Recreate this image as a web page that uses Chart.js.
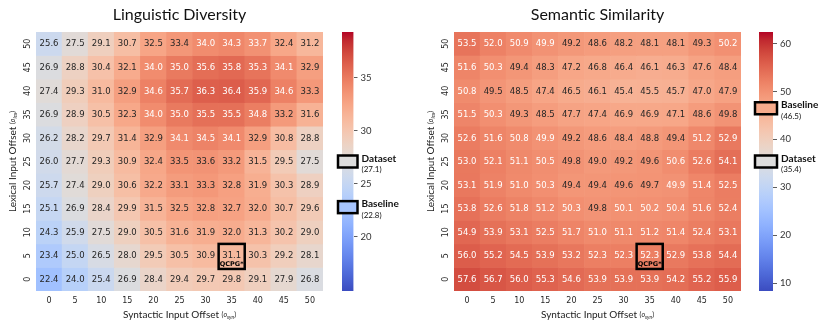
<!DOCTYPE html>
<html>
<head>
<meta charset="utf-8">
<title>Linguistic Diversity / Semantic Similarity</title>
<script src="https://cdn.jsdelivr.net/npm/chart.js"></script>
<style>
  body { margin: 0; background: #fff; }
  #wrap { position: relative; width: 830px; height: 328px; }
  canvas { position: absolute; top: 0; }
</style>
</head>
<body>
<div id="wrap">
  <canvas id="divChart" style="left:0px" width="330" height="328"></canvas>
  <canvas id="divBar" style="left:330px" width="85" height="328"></canvas>
  <canvas id="simChart" style="left:418px" width="330" height="328"></canvas>
  <canvas id="simBar" style="left:745px" width="85" height="328"></canvas>
</div>
<script>
// syntactic offsets (columns) and lexical offsets (rows, top to bottom)
const synOffsets = [0, 5, 10, 15, 20, 25, 30, 35, 40, 45, 50];
const lexOffsets = [50, 45, 40, 35, 30, 25, 20, 15, 10, 5, 0];

const diversity = [
    [25.6, 27.5, 29.1, 30.7, 32.5, 33.4, 34.0, 34.3, 33.7, 32.4, 31.2],
    [26.9, 28.8, 30.4, 32.1, 34.0, 35.0, 35.6, 35.8, 35.3, 34.1, 32.9],
    [27.4, 29.3, 31.0, 32.9, 34.6, 35.7, 36.3, 36.4, 35.9, 34.6, 33.3],
    [26.9, 28.9, 30.5, 32.3, 34.0, 35.0, 35.5, 35.5, 34.8, 33.2, 31.6],
    [26.2, 28.2, 29.7, 31.4, 32.9, 34.1, 34.5, 34.1, 32.9, 30.8, 28.8],
    [26.0, 27.7, 29.3, 30.9, 32.4, 33.5, 33.6, 33.2, 31.5, 29.5, 27.5],
    [25.7, 27.4, 29.0, 30.6, 32.2, 33.1, 33.3, 32.8, 31.9, 30.3, 28.9],
    [25.1, 26.9, 28.4, 29.9, 31.5, 32.5, 32.8, 32.7, 32.0, 30.7, 29.6],
    [24.3, 25.9, 27.5, 29.0, 30.5, 31.6, 31.9, 32.0, 31.3, 30.2, 29.0],
    [23.4, 25.0, 26.5, 28.0, 29.5, 30.5, 30.9, 31.1, 30.3, 29.2, 28.1],
    [22.4, 24.0, 25.4, 26.9, 28.4, 29.4, 29.7, 29.8, 29.1, 27.9, 26.8]
];

const similarity = [
    [53.5, 52.0, 50.9, 49.9, 49.2, 48.6, 48.2, 48.1, 48.1, 49.3, 50.2],
    [51.6, 50.3, 49.4, 48.3, 47.2, 46.8, 46.4, 46.1, 46.3, 47.6, 48.4],
    [50.8, 49.5, 48.5, 47.4, 46.5, 46.1, 45.4, 45.5, 45.7, 47.0, 47.9],
    [51.5, 50.3, 49.3, 48.5, 47.7, 47.4, 46.9, 46.9, 47.1, 48.6, 49.8],
    [52.6, 51.6, 50.8, 49.9, 49.2, 48.6, 48.4, 48.8, 49.4, 51.2, 52.9],
    [53.0, 52.1, 51.1, 50.5, 49.8, 49.0, 49.2, 49.6, 50.6, 52.6, 54.1],
    [53.1, 51.9, 51.0, 50.3, 49.4, 49.4, 49.6, 49.7, 49.9, 51.4, 52.5],
    [53.8, 52.6, 51.8, 51.2, 50.3, 49.8, 50.1, 50.2, 50.4, 51.6, 52.4],
    [54.9, 53.9, 53.1, 52.5, 51.7, 51.0, 51.1, 51.2, 51.4, 52.4, 53.1],
    [56.0, 55.2, 54.5, 53.9, 53.2, 52.3, 52.3, 52.3, 52.9, 53.8, 54.4],
    [57.6, 56.7, 56.0, 55.3, 54.6, 53.9, 53.9, 53.9, 54.2, 55.2, 55.9]
];

// colour ranges and colourbar ticks
const divRange = [14.9, 39.3];
const simRange = [8.4, 62.4];
const divBarTicks = [20, 25, 30, 35];
const simBarTicks = [10, 20, 30, 40, 50, 60];

// reference markers on the colourbars
const divMarkers = [{ name: 'Dataset', value: 27.1 }, { name: 'Baseline', value: 22.8 }];
const simMarkers = [{ name: 'Baseline', value: 46.5 }, { name: 'Dataset', value: 35.4 }];

// highlighted configuration
const qcpg = { label: 'QCPG*', syn: 35, lex: 5 };

// coolwarm
const CW = [
    [59,76,192],[68,90,204],[77,104,215],[87,117,225],[98,130,234],[108,142,241],
    [119,154,247],[130,165,251],[141,176,254],[152,185,255],[163,194,255],[174,201,253],
    [184,208,249],[194,213,244],[204,217,238],[213,219,230],[221,221,221],[229,216,209],
    [236,211,197],[241,204,185],[245,196,173],[247,187,160],[247,177,148],[247,166,135],
    [244,154,123],[241,141,111],[236,127,99],[229,112,88],[222,96,77],[213,80,66],
    [203,62,56],[192,40,47],[180,4,38]
];

function cmapRGB(v, range) {
    let t = (v - range[0]) / (range[1] - range[0]);
    t = Math.max(0, Math.min(1, t));
    const n = CW.length - 1;
    const f = t * n;
    const i = Math.min(Math.floor(f), n - 1);
    const u = f - i;
    return CW[i].map((c, k) => Math.round(c + (CW[i + 1][k] - c) * u));
}
function cmap(v, range) {
    const c = cmapRGB(v, range);
    return 'rgb(' + c.join(',') + ')';
}
function textColor(v, range) {
    const lin = cmapRGB(v, range).map(c => {
        c = c / 255;
        return c <= 0.03928 ? c / 12.92 : Math.pow((c + 0.055) / 1.055, 2.4);
    });
    const lum = 0.2126 * lin[0] + 0.7152 * lin[1] + 0.0722 * lin[2];
    return lum > 0.408 ? '#262626' : '#ffffff';
}

const tickFont = { family: 'DejaVu Sans', size: 8 };

function drawAxisTitle(ctx, x, y, main, sub, rotate) {
    ctx.save();
    ctx.translate(x, y);
    if (rotate) ctx.rotate(-Math.PI / 2);
    const mainFont = '10px Lato';
    const smallFont = '7px Lato';
    const italFont = 'italic 7px Lato';
    const subFont = 'italic 5px Lato';
    const parts = [
        [main + ' ', mainFont, 0], ['(', smallFont, 0], ['o', italFont, 0], [sub, subFont, 2], [')', smallFont, 0]
    ];
    let w = 0;
    parts.forEach(p => { ctx.font = p[1]; w += ctx.measureText(p[0]).width; });
    let cx = -w / 2;
    ctx.fillStyle = '#222';
    ctx.textBaseline = 'middle';
    ctx.textAlign = 'left';
    parts.forEach(p => {
        ctx.font = p[1];
        ctx.fillText(p[0], cx, p[2]);
        cx += ctx.measureText(p[0]).width;
    });
    ctx.restore();
}

function makeHeatmap(id, title, values, range) {
    const datasets = lexOffsets.map((lex, r) => ({
        data: values[r].map(() => [lex - 2.5, lex + 2.5]),
        backgroundColor: values[r].map(v => cmap(v, range)),
        borderWidth: 0,
        barPercentage: 1,
        categoryPercentage: 1,
        grouped: false
    }));

    const cellText = {
        id: 'cellText',
        afterDatasetsDraw(chart) {
            const { ctx, scales: { x, y }, chartArea } = chart;
            ctx.save();
            ctx.textAlign = 'center';
            ctx.textBaseline = 'middle';
            ctx.font = '8.5px "DejaVu Sans"';
            lexOffsets.forEach((lex, r) => {
                synOffsets.forEach((syn, c) => {
                    const v = values[r][c];
                    ctx.fillStyle = textColor(v, range);
                    ctx.fillText(v.toFixed(1), x.getPixelForValue(c), y.getPixelForValue(lex) + 0.5);
                });
            });
            // highlighted cell
            const ci = synOffsets.indexOf(qcpg.syn);
            const x0 = x.getPixelForValue(ci - 0.5), x1 = x.getPixelForValue(ci + 0.5);
            const y0 = y.getPixelForValue(qcpg.lex + 2.5), y1 = y.getPixelForValue(qcpg.lex - 2.5);
            ctx.strokeStyle = '#000';
            ctx.lineWidth = 2.5;
            ctx.strokeRect(x0, y0, x1 - x0, y1 - y0 + 1.5);
            ctx.fillStyle = '#000';
            ctx.font = 'bold 6.5px "DejaVu Sans"';
            ctx.fillText(qcpg.label, (x0 + x1) / 2, y1 - 3.5);

            // y tick labels (rotated)
            ctx.font = '8px "DejaVu Sans"';
            ctx.fillStyle = '#262626';
            lexOffsets.forEach(lex => {
                ctx.save();
                ctx.translate(chartArea.left - 8, y.getPixelForValue(lex));
                ctx.rotate(-Math.PI / 2);
                ctx.fillText(String(lex), 0, 0);
                ctx.restore();
            });
            // titles
            ctx.font = '16px Lato';
            ctx.fillStyle = '#111';
            ctx.fillText(title, (chartArea.left + chartArea.right) / 2, 15);
            ctx.restore();
            drawAxisTitle(ctx, (chartArea.left + chartArea.right) / 2, 315, 'Syntactic Input Offset', 'syn', false);
            drawAxisTitle(ctx, 13, (chartArea.top + chartArea.bottom) / 2, 'Lexical Input Offset', 'lex', true);
        }
    };

    return new Chart(document.getElementById(id), {
        type: 'bar',
        data: { labels: synOffsets.map(String), datasets: datasets },
        options: {
            responsive: false,
            animation: false,
            layout: { padding: { top: 32, right: 7, left: 0, bottom: 0 } },
            plugins: { legend: { display: false }, tooltip: { enabled: false } },
            scales: {
                x: {
                    grid: { display: false, drawTicks: false },
                    border: { display: false },
                    ticks: { font: tickFont, color: '#262626', padding: 5, maxRotation: 0 },
                    afterFit(s) { s.height = 37; }
                },
                y: {
                    min: -2.5,
                    max: 52.5,
                    grid: { display: false, drawTicks: false },
                    border: { display: false },
                    ticks: { display: false },
                    afterFit(s) { s.width = 36; }
                }
            }
        },
        plugins: [cellText]
    });
}

function makeColorbar(id, range, tickVals, markers, padLeft, barW) {
    const markerPlugin = {
        id: 'markers',
        afterDraw(chart) {
            const { ctx, scales: { y }, chartArea } = chart;
            ctx.save();
            markers.forEach(m => {
                const py = y.getPixelForValue(m.value);
                ctx.fillStyle = cmap(m.value, range);
                ctx.fillRect(chartArea.left - 4, py - 6, chartArea.width + 8, 12);
                ctx.strokeStyle = '#000';
                ctx.lineWidth = 2.5;
                ctx.strokeRect(chartArea.left - 4, py - 6, chartArea.width + 8, 12);
                ctx.fillStyle = '#111';
                ctx.textAlign = 'left';
                ctx.textBaseline = 'middle';
                ctx.font = 'bold 10px Lato';
                ctx.fillText(m.name, chartArea.right + 8, py - 3);
                ctx.font = '8px Lato';
                ctx.fillText('(' + m.value.toFixed(1) + ')', chartArea.right + 8, py + 8);
            });
            ctx.restore();
        }
    };

    return new Chart(document.getElementById(id), {
        type: 'bar',
        data: {
            labels: [''],
            datasets: [{
                data: [[range[0], range[1]]],
                barPercentage: 1,
                categoryPercentage: 1,
                borderWidth: 0,
                backgroundColor(c) {
                    const chart = c.chart;
                    if (!chart.chartArea) return '#ccc';
                    const y = chart.scales.y;
                    const g = chart.ctx.createLinearGradient(0, y.getPixelForValue(range[0]), 0, y.getPixelForValue(range[1]));
                    CW.forEach((col, k) => g.addColorStop(k / (CW.length - 1), 'rgb(' + col.join(',') + ')'));
                    return g;
                }
            }]
        },
        options: {
            responsive: false,
            animation: false,
            layout: { padding: { top: 32, bottom: 37, left: padLeft, right: 0 } },
            plugins: { legend: { display: false }, tooltip: { enabled: false } },
            scales: {
                x: { display: false },
                y: {
                    position: 'right',
                    min: range[0],
                    max: range[1],
                    afterBuildTicks(s) { s.ticks = tickVals.map(v => ({ value: v })); },
                    grid: { drawOnChartArea: false, drawTicks: true, tickLength: 4, color: '#333', lineWidth: 0.8 },
                    border: { display: false },
                    ticks: { font: { family: 'Lato', size: 9.5 }, color: '#333', padding: 3 },
                    afterFit(s) { s.width = 85 - padLeft - barW; }
                }
            }
        },
        plugins: [markerPlugin]
    });
}

makeHeatmap('divChart', 'Linguistic Diversity', diversity, divRange);
makeHeatmap('simChart', 'Semantic Similarity', similarity, simRange);
makeColorbar('divBar', divRange, divBarTicks, divMarkers, 12, 11.5);
makeColorbar('simBar', simRange, simBarTicks, simMarkers, 14, 14);
</script>
</body>
</html>
